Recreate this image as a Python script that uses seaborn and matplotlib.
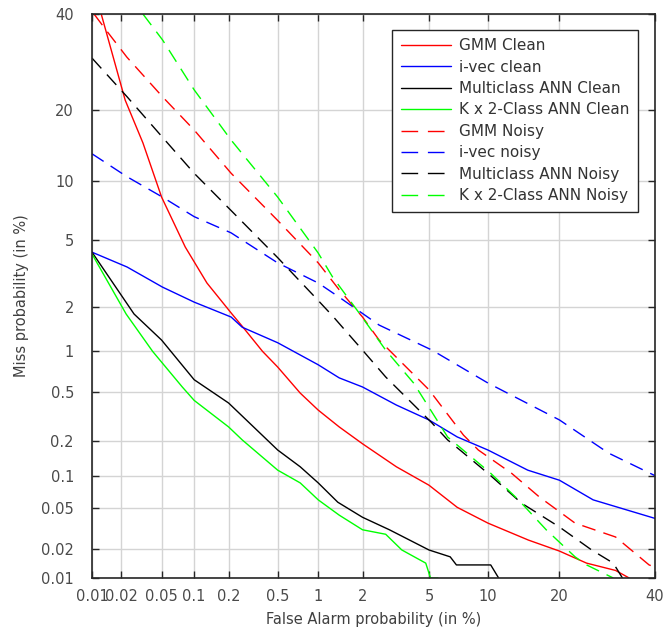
import math
from statistics import NormalDist

import numpy as np
import pandas as pd
import matplotlib
matplotlib.use("Agg")
import matplotlib.pyplot as plt
from matplotlib.lines import Line2D
import seaborn as sns

# DET curves: false alarm / miss probabilities in percent
gmm_clean_fa   = [0.0125, 0.022, 0.033, 0.05, 0.083, 0.13, 0.21, 0.264, 0.38, 0.5, 0.74, 1.0, 1.4, 2.0, 3.25, 5.0, 7.07, 10.0, 15.1, 20.0, 25.0, 31.0, 34.0]
gmm_clean_miss = [40.0, 21.7, 14.8, 8.4, 4.6, 2.83, 1.83, 1.47, 1.0, 0.77, 0.49, 0.36, 0.263, 0.19, 0.12, 0.082, 0.051, 0.036, 0.0245, 0.019, 0.0143, 0.012, 0.01]

ivec_clean_fa   = [0.01, 0.023, 0.051, 0.1, 0.21, 0.26, 0.5, 1.0, 1.4, 2.0, 3.25, 5.0, 7.07, 10.0, 15.0, 20.0, 26.3, 40.0]
ivec_clean_miss = [4.3, 3.53, 2.67, 2.15, 1.72, 1.47, 1.15, 0.80, 0.64, 0.546, 0.395, 0.30, 0.217, 0.168, 0.112, 0.091, 0.06, 0.04]

mann_clean_fa   = [0.01, 0.027, 0.05, 0.1, 0.2, 0.5, 0.74, 1.0, 1.37, 2.0, 2.95, 5.0, 6.5, 7.0, 10.3, 11.2]
mann_clean_miss = [4.3, 1.8, 1.2, 0.62, 0.41, 0.168, 0.12, 0.086, 0.057, 0.041, 0.031, 0.0195, 0.0166, 0.0137, 0.0137, 0.01]

k2_clean_fa   = [0.01, 0.0225, 0.041, 0.078, 0.1, 0.2, 0.26, 0.5, 0.74, 1.0, 1.4, 2.0, 2.8, 3.5, 4.8, 5.1, 5.6]
k2_clean_miss = [4.2, 1.8, 1.0, 0.546, 0.43, 0.263, 0.205, 0.112, 0.086, 0.06, 0.043, 0.031, 0.028, 0.0195, 0.0143, 0.01, 0.01]

gmm_noisy_fa   = [0.0105, 0.0143, 0.0229, 0.051, 0.1, 0.21, 0.5, 1.0, 1.4, 2.0, 2.55, 5.0, 7.6, 9.0, 12.8, 16.7, 22.8, 31.0, 38.6, 40.0]
gmm_noisy_miss = [40.0, 36.0, 30.2, 22.3, 16.7, 10.9, 6.4, 3.73, 2.57, 1.72, 1.2, 0.52, 0.225, 0.168, 0.105, 0.064, 0.036, 0.0263, 0.0137, 0.013]

ivec_noisy_fa   = [0.01, 0.023, 0.051, 0.1, 0.21, 0.5, 1.0, 1.4, 2.55, 5.2, 10.0, 20.0, 29.5, 40.0]
ivec_noisy_miss = [13.3, 10.5, 8.4, 6.7, 5.5, 3.73, 2.83, 2.31, 1.52, 1.02, 0.585, 0.30, 0.158, 0.1]

mann_noisy_fa   = [0.01, 0.023, 0.051, 0.1, 0.21, 0.5, 1.0, 1.26, 2.0, 2.8, 5.2, 6.3, 7.3, 10.3, 14.1, 20.0, 26.0, 30.5, 32.5]
mann_noisy_miss = [30.0, 22.3, 15.6, 10.9, 7.2, 4.0, 2.2, 1.75, 1.02, 0.65, 0.283, 0.205, 0.168, 0.1, 0.056, 0.033, 0.0195, 0.0143, 0.01]

k2_noisy_fa   = [0.033, 0.051, 0.1, 0.21, 0.5, 1.0, 1.26, 1.9, 2.8, 4.1, 6.3, 10.3, 13.7, 17.8, 22.8, 25.0, 30.5]
k2_noisy_miss = [40.0, 34.0, 23.6, 15.2, 8.4, 4.25, 3.08, 1.83, 1.02, 0.585, 0.217, 0.105, 0.06, 0.031, 0.0166, 0.0137, 0.01]

curve_names = ["GMM Clean", "i-vec clean", "Multiclass ANN Clean", "K x 2-Class ANN Clean",
               "GMM Noisy", "i-vec noisy", "Multiclass ANN Noisy", "K x 2-Class ANN Noisy"]
curve_fa = [gmm_clean_fa, ivec_clean_fa, mann_clean_fa, k2_clean_fa,
            gmm_noisy_fa, ivec_noisy_fa, mann_noisy_fa, k2_noisy_fa]
curve_miss = [gmm_clean_miss, ivec_clean_miss, mann_clean_miss, k2_clean_miss,
              gmm_noisy_miss, ivec_noisy_miss, mann_noisy_miss, k2_noisy_miss]
curve_colors = ["#ff0000", "#0000ff", "#000000", "#00ff00"] * 2

tick_values = [0.01, 0.02, 0.05, 0.1, 0.2, 0.5, 1, 2, 5, 10, 20, 40]
tick_labels = ["0.01", "0.02", "0.05", "0.1", "0.2", "0.5", "1", "2", "5", "10", "20", "40"]

rows = []
for name, fa, miss in zip(curve_names, curve_fa, curve_miss):
    for f, m in zip(fa, miss):
        rows.append({"curve": name, "fa": f, "miss": m})
df = pd.DataFrame(rows)

# normal-deviate (probit) axis scale, values in percent
_nd = NormalDist()
_ppf = np.vectorize(lambda p: _nd.inv_cdf(p), otypes=[float])
_erf = np.vectorize(math.erf, otypes=[float])


def probit_fwd(p):
    p = np.clip(np.asarray(p, dtype=float) / 100.0, 1e-9, 1 - 1e-9)
    return _ppf(p)


def probit_inv(z):
    z = np.asarray(z, dtype=float)
    return 50.0 * (1.0 + _erf(z / math.sqrt(2.0)))


sns.set_style("white")
plt.rcParams["font.family"] = ["DejaVu Sans"]

fig = plt.figure(figsize=(6.67, 6.31), dpi=100)
ax = fig.add_axes([92 / 667, 1 - 578 / 631, 563 / 667, 564 / 631])

palette = dict(zip(curve_names, curve_colors))
dash_map = {n: "" if i < 4 else (10, 6) for i, n in enumerate(curve_names)}

sns.lineplot(data=df, x="fa", y="miss", hue="curve", style="curve",
             hue_order=curve_names, style_order=curve_names,
             palette=palette, dashes=dash_map, estimator=None, sort=False,
             linewidth=1.0, ax=ax, legend=False)

ax.set_xscale("function", functions=(probit_fwd, probit_inv))
ax.set_yscale("function", functions=(probit_fwd, probit_inv))
ax.set_xlim(0.01, 40)
ax.set_ylim(0.01, 40)
ax.set_xticks(tick_values)
ax.set_xticklabels(tick_labels)
ax.set_yticks(tick_values)
ax.set_yticklabels(tick_labels)
ax.minorticks_off()

ax.grid(True, color="#d4d4d4", linewidth=1.0)
ax.set_axisbelow(True)
for s in ax.spines.values():
    s.set_color("#262626")
    s.set_linewidth(1.2)
    s.set_visible(True)

ax.tick_params(axis="both", which="major", direction="in", length=5, width=1.0,
               color="#262626", labelcolor="#4a4a4a", labelsize=10.5,
               top=True, right=True, bottom=True, left=True)
ax.tick_params(axis="y", pad=13)
ax.tick_params(axis="x", pad=8)

ax.set_xlabel("False Alarm probability (in %)", fontsize=10.5, color="#404040", labelpad=6)
ax.set_ylabel("Miss probability (in %)", fontsize=10.5, color="#404040", labelpad=9)

handles = [Line2D([0], [0], color=c, lw=1.0,
                  linestyle="-" if i < 4 else (0, (12, 7)))
           for i, c in enumerate(curve_colors)]
leg = ax.legend(handles, curve_names, loc="upper right",
                bbox_to_anchor=(0.970, 0.972), borderaxespad=0,
                fontsize=11, frameon=True, fancybox=False, framealpha=1,
                edgecolor="#262626", handlelength=3.3, handletextpad=0.55,
                labelspacing=0.42, borderpad=0.55)
leg.get_frame().set_linewidth(1.0)
for t in leg.get_texts():
    t.set_color("#333333")

fig.savefig("out.png", dpi=100)
